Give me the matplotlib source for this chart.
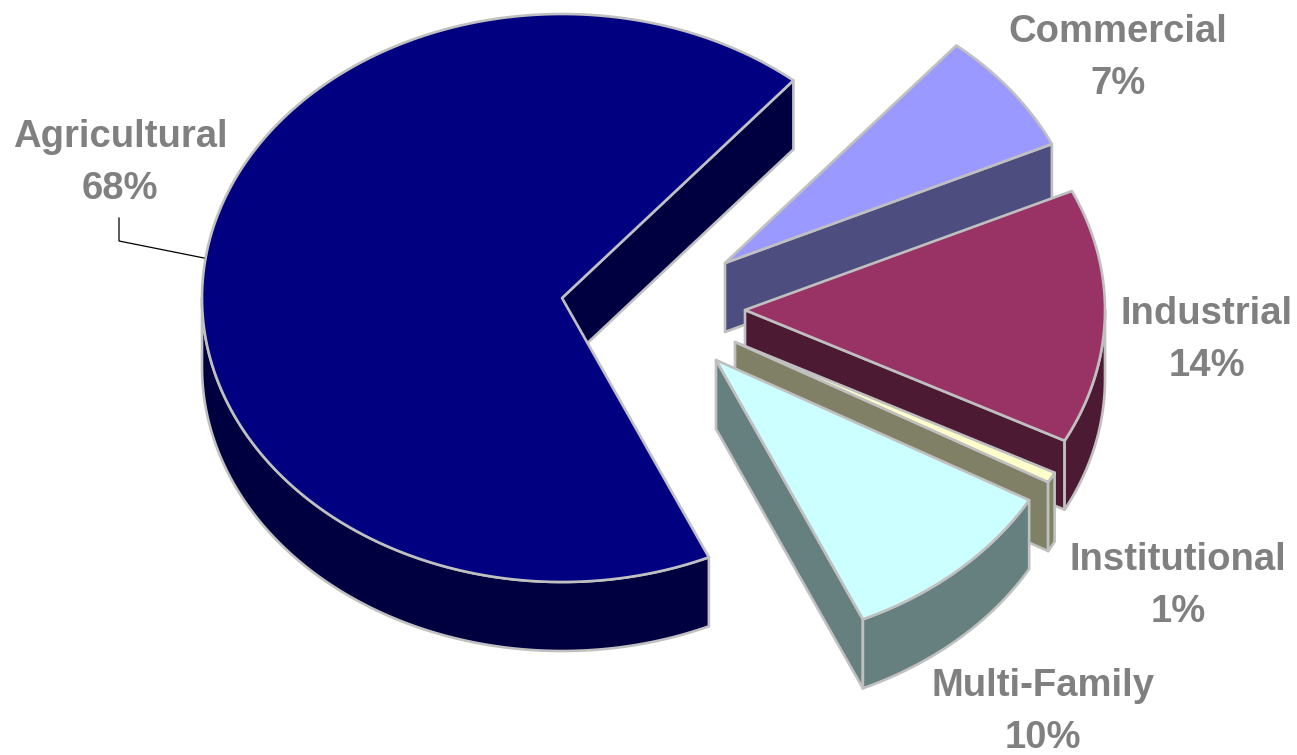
import numpy as np
import matplotlib
matplotlib.use('Agg')
import matplotlib.pyplot as plt
from matplotlib.patches import Polygon

# data
names  = ['Agricultural', 'Multi-Family', 'Institutional', 'Industrial', 'Commercial']
values = [67.8, 10.1, 0.6, 14.49, 7.01]

# styles, same order as names
top_colors  = ['#000080', '#CCFFFF', '#FFFFCC', '#993366', '#9999FF']
side_colors = ['#000040', '#668080', '#808066', '#4D1A33', '#4D4D80']
apexes      = [(562, 298), (716, 360), (735, 342), (745, 310), (725, 263)]
label_xy    = [(120, 163), (1043, 712), (1178, 586), (1207, 340), (1118, 58)]

RX, RY = 360, 284
DEPTH  = 69
START  = 50
EDGE   = '#C0C0C0'
LW     = 1.9

fig = plt.figure(figsize=(12.97, 7.55), dpi=100)
ax = fig.add_axes([0, 0, 1, 1])
ax.set_xlim(0, 1297)
ax.set_ylim(755, 0)
ax.axis('off')


def arc(apex, a0, a1):
    t = np.radians(np.linspace(a0, a1, 200))
    return np.column_stack([apex[0] + RX * np.cos(t), apex[1] - RY * np.sin(t)])


def draw_wedge(apex, a0, a1, top, side):
    down = np.array([0, DEPTH])
    tip = arc(apex, a0, a0)[0]
    # cut face along the starting radius
    ax.add_patch(Polygon([apex, tip, tip + down, np.array(apex) + down],
                         fc=side, ec=EDGE, lw=LW, joinstyle='round'))
    # outer wall, only the part on the front half of the ellipse
    lo = max(a0, 180) if a1 <= 360 else a0
    hi = min(a1, 360)
    if hi > lo:
        rim = arc(apex, lo, hi)
        ax.add_patch(Polygon(np.vstack([rim, rim[::-1] + down]),
                             fc=side, ec=EDGE, lw=LW, joinstyle='round'))
    ax.add_patch(Polygon(np.vstack([[apex], arc(apex, a0, a1)]),
                         fc=top, ec=EDGE, lw=LW, joinstyle='round'))


sweeps = np.array(values) / sum(values) * 360
starts = START + np.concatenate([[0], np.cumsum(sweeps)[:-1]])

# back pieces first so the front ones sit on top of them
for i in [0, 4, 3, 2, 1]:
    draw_wedge(apexes[i], starts[i], starts[i] + sweeps[i], top_colors[i], side_colors[i])

# leader line for the big slice
ax.plot([119, 119, 204], [218, 241, 258], color='black', lw=0.9, solid_joinstyle='miter')

for name, val, (x, y) in zip(names, values, label_xy):
    ax.text(x, y, f'{name}\n{val:.0f}%', ha='center', va='center', multialignment='center',
            family='Liberation Sans', fontweight='bold', fontsize=27.5, color='#808080',
            linespacing=1.58)

fig.savefig('out.png', dpi=100)
